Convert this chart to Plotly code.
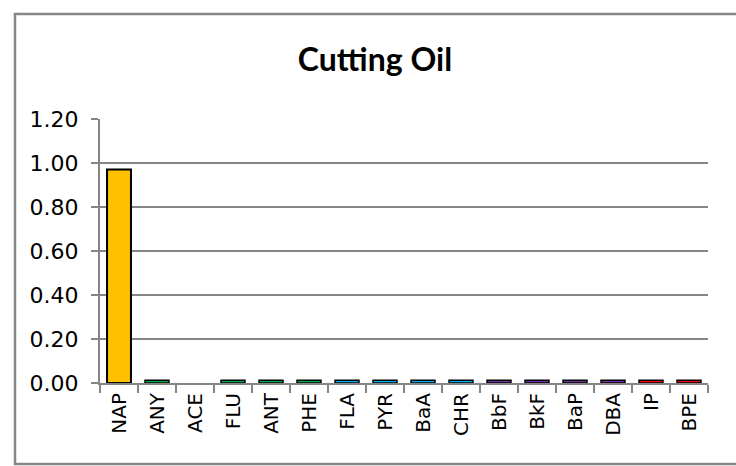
import plotly.graph_objects as go

categories = ["NAP", "ANY", "ACE", "FLU", "ANT", "PHE", "FLA", "PYR",
              "BaA", "CHR", "BbF", "BkF", "BaP", "DBA", "IP", "BPE"]
values = [0.97, 0.012, None, 0.012, 0.012, 0.012, 0.012, 0.012,
          0.012, 0.012, 0.012, 0.012, 0.012, 0.012, 0.012, 0.012]
bar_colors = ["#FFC000", "#00B050", "#00B050", "#00B050", "#00B050", "#00B050",
              "#00B0F0", "#00B0F0", "#00B0F0", "#00B0F0",
              "#7030A0", "#7030A0", "#7030A0", "#7030A0",
              "#FF0000", "#FF0000"]
y_ticks = [0.0, 0.2, 0.4, 0.6, 0.8, 1.0, 1.2]
title_text = "Cutting Oil"

GRAY = "#868686"
FONT = "DejaVu Sans"

fig = go.Figure(go.Bar(
    x=categories, y=values,
    marker=dict(color=bar_colors, line=dict(color="black", width=[2] + [1.5] * 15)),
    width=0.63,
))

fig.update_layout(
    width=736, height=466,
    margin=dict(l=100, r=28, t=119, b=83, autoexpand=False),
    plot_bgcolor="white", paper_bgcolor="white",
    showlegend=False,
    title=dict(text="<b>" + title_text + "</b>", x=375 / 736, xanchor="center",
               y=1 - 60 / 466, yanchor="middle",
               font=dict(family="Lato", size=32, color="black")),
    font=dict(family=FONT, size=22, color="black"),
)

fig.update_yaxes(
    range=[0, 1.2], tickvals=y_ticks, tickformat=".2f",
    showgrid=True, gridcolor=GRAY, gridwidth=2,
    showline=True, linecolor=GRAY, linewidth=2,
    ticks="outside", ticklen=7, tickcolor=GRAY, tickwidth=2,
    zeroline=False, ticklabelstandoff=8,
    tickfont=dict(family=FONT, size=22, color="black"),
)
fig.update_xaxes(
    tickangle=-90, showline=True, linecolor=GRAY, linewidth=2,
    ticks="outside", tickson="boundaries", ticklen=8, tickcolor=GRAY, tickwidth=2,
    showgrid=False, range=[-0.5, 15.5],
    tickfont=dict(family=FONT, size=20, color="black"),
)

fig.add_shape(type="rect", xref="paper", yref="paper",
              x0=(15 - 100) / 608, x1=(745 - 100) / 608,
              y0=(383 - 464) / 264, y1=(383 - 14) / 264,
              line=dict(color=GRAY, width=2.5), layer="below")

fig.write_html("out.html", config={"displayModeBar": False},
               post_script="document.body.style.margin='0';document.body.style.overflow='hidden';")
